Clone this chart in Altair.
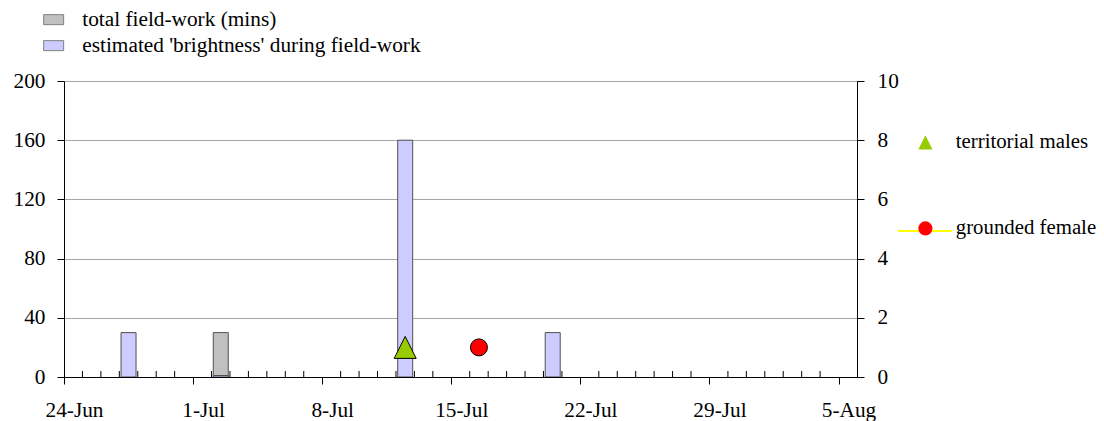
import altair as alt
import pandas as pd

YEAR = 2009
axis_start = "24-Jun"
axis_days = 43

fieldwork_dates = ["2-Jul"]
fieldwork_mins = [30]
brightness_dates = ["27-Jun", "2-Jul", "12-Jul", "20-Jul"]
brightness_vals = [30, 1, 160, 30]
males_dates = ["12-Jul"]
males_counts = [1]
female_dates = ["16-Jul"]
female_counts = [1]

x_tick_labels = ["24-Jun", "1-Jul", "8-Jul", "15-Jul", "22-Jul", "29-Jul", "5-Aug"]
left_ticks = [0, 40, 80, 120, 160, 200]
right_ticks = [0, 2, 4, 6, 8, 10]

bar_series = ["total field-work (mins)", "estimated 'brightness' during field-work"]
pt_series = ["territorial males", "grounded female"]

FONT = "Liberation Serif"
FS = 21.3


def day_offset(s):
    d = pd.to_datetime(f"{s}-{YEAR}", format="%d-%b-%Y")
    d0 = pd.to_datetime(f"{axis_start}-{YEAR}", format="%d-%b-%Y")
    return (d - d0).days


rows = []
for d, v in zip(fieldwork_dates, fieldwork_mins):
    rows.append({"day": day_offset(d) + 0.5, "value": v, "series": bar_series[0]})
for d, v in zip(brightness_dates, brightness_vals):
    rows.append({"day": day_offset(d) + 0.5, "value": v, "series": bar_series[1]})
bars_df = pd.DataFrame(rows)

males_df = pd.DataFrame({"day": [day_offset(d) + 0.5 for d in males_dates],
                         "count": males_counts, "series": pt_series[0]})
female_df = pd.DataFrame({"day": [day_offset(d) + 0.5 for d in female_dates],
                          "count": female_counts, "series": pt_series[1],
                          "line_series": pt_series[1]})

major_days = [day_offset(l) for l in x_tick_labels]
minor_df = pd.DataFrame({"day": [d for d in range(1, axis_days) if d not in major_days]})

label_expr = " : ".join(f"datum.value == {d} ? '{l}'" for d, l in zip(major_days, x_tick_labels)) + " : ''"

xscale = alt.Scale(domain=[0, axis_days], nice=False, zero=False, padding=0)
x_axis = alt.Axis(values=major_days, labelExpr=label_expr, tickSize=7, labelOffset=10,
                  labelPadding=15, grid=False, title=None, zindex=1, labelAngle=0,
                  labelFlush=False, labelOverlap=False)

bars = alt.Chart(bars_df).mark_bar(size=15, stroke="#505050", strokeWidth=1).encode(
    x=alt.X("day:Q", scale=xscale, axis=x_axis),
    y=alt.Y("value:Q", stack=None, scale=alt.Scale(domain=[0, 200], nice=False, padding=0),
            axis=alt.Axis(values=left_ticks, grid=True, tickSize=7, labelPadding=12,
                          title=None, orient="left")),
    color=alt.Color("series:N", scale=alt.Scale(domain=bar_series, range=["#c0c0c0", "#ccccff"]),
                    legend=alt.Legend(orient="none", legendX=-21, legendY=-72, title=None,
                                      symbolType="M-1,-0.5H1V0.5H-1Z", symbolSize=400,
                                      symbolStrokeColor="#808080", symbolStrokeWidth=1,
                                      labelFont=FONT, labelFontSize=FS, labelColor="black",
                                      labelOffset=18, rowPadding=4, padding=0, labelLimit=0)),
)

minor_ticks = alt.Chart(minor_df).mark_rule(color="black", strokeWidth=1).encode(
    x=alt.X("day:Q", scale=xscale),
    y=alt.value(290),
    y2=alt.value(296),
)

tri = "M0,-1L1,1L-1,1Z"
pt_legend = dict(orient="none", legendX=851, legendY=51, title=None, symbolSize=200,
                 symbolStrokeColor="black", symbolStrokeWidth=1,
                 labelFont=FONT, labelFontSize=20.8, labelColor="black",
                 labelOffset=20, rowPadding=64, padding=0, labelLimit=0, zindex=2)

yright = alt.Y("count:Q", scale=alt.Scale(domain=[0, 10], nice=False),
               axis=alt.Axis(values=right_ticks, orient="right", tickSize=7, labelPadding=13,
                             grid=False, title=None))

shape_enc = alt.Shape("series:N", scale=alt.Scale(domain=pt_series, range=[tri, "circle"]),
                      legend=alt.Legend(**pt_legend))
fill_enc = alt.Fill("series:N", scale=alt.Scale(domain=pt_series, range=["#99cc00", "#ff0000"]),
                    legend=alt.Legend(**pt_legend))

female_line = alt.Chart(female_df).mark_line(strokeWidth=2).encode(
    x=alt.X("day:Q", scale=xscale),
    y=yright,
    stroke=alt.Stroke("line_series:N", scale=alt.Scale(domain=[pt_series[1]], range=["#ffff00"]),
                      legend=alt.Legend(orient="none", legendX=833, legendY=122, title=None,
                                        symbolType="stroke", symbolSize=2916, symbolStrokeWidth=2,
                                        labelExpr="''", labelFontSize=FS, padding=0, zindex=1)),
)

males_pts = alt.Chart(males_df).mark_point(filled=True, size=484, stroke="black",
                                           strokeWidth=1, opacity=1).encode(
    x=alt.X("day:Q", scale=xscale), y=yright, shape=shape_enc, fill=fill_enc)

female_pts = alt.Chart(female_df).mark_point(filled=True, size=290, stroke="black",
                                             strokeWidth=1, opacity=1).encode(
    x=alt.X("day:Q", scale=xscale), y=yright, shape=shape_enc, fill=fill_enc)

left = alt.layer(bars, minor_ticks)
right = alt.layer(female_line, males_pts, female_pts)

chart = alt.layer(left, right).resolve_scale(y="independent").properties(
    width=793, height=296,
    autosize=alt.AutoSizeParams(type="none"),
    padding={"left": 56, "top": 73, "right": 239, "bottom": 44},
).configure_view(strokeWidth=0).configure_axis(
    labelFont=FONT, labelFontSize=FS, labelColor="black",
    domainColor="black", tickColor="black", gridColor="#a6a6a6",
)

chart.save("out.html", embed_options={"renderer": "svg", "actions": False})
